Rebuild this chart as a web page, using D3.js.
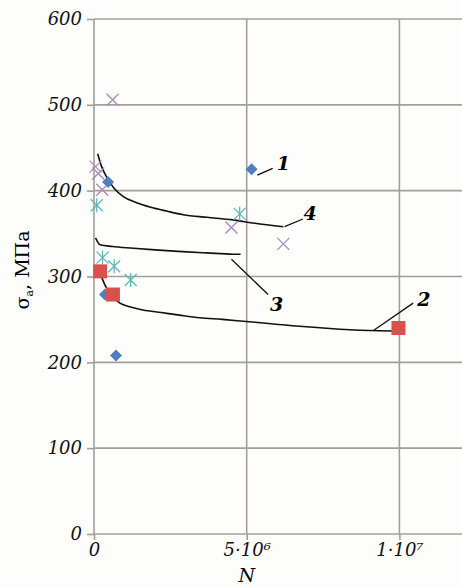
<!DOCTYPE html>
<html>
<head>
<meta charset="utf-8">
<script src="https://d3js.org/d3.v7.min.js"></script>
<style>
  body { margin: 0; background: #fdfdfb; }
  svg { display: block; }
  .tick text { font-family: "DejaVu Serif", serif; font-style: italic; font-size: 18px; fill: #111; }
</style>
</head>
<body>
<svg width="462" height="587"></svg>
<script>
// x in cycles, y in MPa
var yTicks = [0, 100, 200, 300, 400, 500, 600];
var xTicks = [0, 5e6, 1e7];
var xTickLabels = ["0", "5\u00b710\u2076", "1\u00b710\u2077"];

var diamondsN = [5.16e6, 0.46e6, 0.72e6, 0.36e6];
var diamondsS = [425, 410, 208, 279];

var squaresN = [0.2e6, 0.62e6, 9.97e6];
var squaresS = [306, 279, 240];

var crossesN = [0.61e6, 0.05e6, 0.14e6, 0.27e6, 4.5e6, 6.2e6];
var crossesS = [506, 428, 420, 401, 357, 338];

var starsN = [0.09e6, 0.28e6, 0.66e6, 1.2e6, 4.77e6];
var starsS = [383, 322, 312, 296, 373];

// curve 4 (top)
var curve4N = [0.12e6, 0.25e6, 0.41e6, 0.65e6, 0.96e6, 1.4e6, 1.83e6, 2.4e6, 2.92e6, 3.7e6, 4.55e6, 5.26e6, 6.2e6];
var curve4S = [443, 428, 416, 403, 393, 386, 381, 376, 372, 369, 366, 362, 358];
// curve 3 (middle)
var curve3N = [0.05e6, 0.2e6, 0.6e6, 1.28e6, 2.0e6, 2.9e6, 3.7e6, 4.55e6, 4.8e6];
var curve3S = [345, 337, 335, 333, 331, 329, 327.5, 326, 326];
// curve 2 (bottom)
var curve2N = [0.2e6, 0.36e6, 0.55e6, 0.85e6, 1.2e6, 1.6e6, 2.2e6, 2.8e6, 3.46e6, 4.2e6, 4.99e6, 5.8e6, 6.73e6, 7.5e6, 8.37e6, 9.0e6, 9.77e6];
var curve2S = [304, 290, 279, 269, 264.5, 261, 258, 255, 252, 250, 247.5, 245, 242, 240, 238, 237, 236.5];

var svg = d3.select("svg");
var x = d3.scaleLinear().domain([0, 12.05e6]).range([94, 462]);
var y = d3.scaleLinear().domain([0, 600]).range([534, 19]);
var grid = "#a49e9a";

// grid
svg.append("g").selectAll("line").data(yTicks).enter().append("line")
  .attr("x1", x(0)).attr("x2", 462)
  .attr("y1", function (d) { return y(d); }).attr("y2", function (d) { return y(d); })
  .attr("stroke", grid).attr("stroke-width", 1.6);
svg.append("g").selectAll("line").data(xTicks).enter().append("line")
  .attr("x1", function (d) { return x(d); }).attr("x2", function (d) { return x(d); })
  .attr("y1", y(0)).attr("y2", y(600))
  .attr("stroke", grid).attr("stroke-width", 1.6);

// axes
var yAxis = svg.append("g").attr("transform", "translate(" + x(0) + ",0)")
  .call(d3.axisLeft(y).tickValues(yTicks).tickSize(7).tickPadding(5));
var xAxis = svg.append("g").attr("transform", "translate(0," + y(0) + ")")
  .call(d3.axisBottom(x).tickValues(xTicks).tickSize(6).tickPadding(3)
    .tickFormat(function (d, i) { return xTickLabels[i]; }));
svg.selectAll(".domain").remove();
svg.selectAll(".tick line").attr("stroke", grid).attr("stroke-width", 1.6);

// curves
var line = d3.line()
  .x(function (d) { return x(d[0]); })
  .y(function (d) { return y(d[1]); })
  .curve(d3.curveMonotoneX);
[[curve4N, curve4S], [curve3N, curve3S], [curve2N, curve2S]].forEach(function (c) {
  svg.append("path")
    .datum(d3.zip(c[0], c[1]))
    .attr("d", line)
    .attr("fill", "none").attr("stroke", "#111").attr("stroke-width", 1.6);
});

// markers
svg.append("g").selectAll("path").data(d3.zip(crossesN, crossesS)).enter().append("path")
  .attr("transform", function (d) { return "translate(" + x(d[0]) + "," + y(d[1]) + ")"; })
  .attr("d", "M-6,-6L6,6M-6,6L6,-6")
  .attr("stroke", "#a88bb4").attr("stroke-width", 1.3).attr("fill", "none");

svg.append("g").selectAll("path").data(d3.zip(starsN, starsS)).enter().append("path")
  .attr("transform", function (d) { return "translate(" + x(d[0]) + "," + y(d[1]) + ")"; })
  .attr("d", "M-6,-6L6,6M-6,6L6,-6M0,-7L0,7")
  .attr("stroke", "#5fb7bd").attr("stroke-width", 1.3).attr("fill", "none");

svg.append("g").selectAll("path").data(d3.zip(diamondsN, diamondsS)).enter().append("path")
  .attr("transform", function (d) { return "translate(" + x(d[0]) + "," + y(d[1]) + ")"; })
  .attr("d", "M0,-6L6,0L0,6L-6,0Z")
  .attr("fill", "#4f7fbf");

svg.append("g").selectAll("rect").data(d3.zip(squaresN, squaresS)).enter().append("rect")
  .attr("x", function (d) { return x(d[0]) - 7; })
  .attr("y", function (d) { return y(d[1]) - 7; })
  .attr("width", 14).attr("height", 14)
  .attr("fill", "#d9504c");

// leaders and curve labels
var labels = [
  { t: "1", lx: [5.35e6, 5.85e6], ly: [418, 426], px: 6.2e6, py: 432 },
  { t: "4", lx: [6.24e6, 6.84e6], ly: [358, 367], px: 7.08e6, py: 373 },
  { t: "3", lx: [4.5e6, 5.7e6], ly: [320, 279], px: 5.98e6, py: 268 },
  { t: "2", lx: [9.15e6, 10.45e6], ly: [237, 269], px: 10.8e6, py: 273 }
];
labels.forEach(function (l) {
  svg.append("line")
    .attr("x1", x(l.lx[0])).attr("y1", y(l.ly[0]))
    .attr("x2", x(l.lx[1])).attr("y2", y(l.ly[1]))
    .attr("stroke", "#111").attr("stroke-width", 1.3);
  svg.append("text")
    .attr("x", x(l.px)).attr("y", y(l.py))
    .attr("dy", "0.35em")
    .attr("text-anchor", "middle")
    .style("font-family", "DejaVu Serif, serif").style("font-style", "italic")
    .style("font-weight", "bold").style("font-size", "19px")
    .text(l.t);
});

// axis titles
svg.append("text")
  .attr("x", x(5e6)).attr("y", 582)
  .attr("text-anchor", "middle")
  .style("font-family", "DejaVu Serif, serif").style("font-style", "italic")
  .style("font-size", "19px")
  .text("N");

var yl = svg.append("text")
  .attr("transform", "translate(29,270) rotate(-90)")
  .attr("text-anchor", "middle")
  .style("font-family", "DejaVu Serif, serif").style("font-size", "19px");
yl.append("tspan").text("\u03c3");
yl.append("tspan").attr("dy", "4").style("font-size", "11px").text("a");
yl.append("tspan").attr("dy", "-4").text(", \u041c\u041f\u0430");
</script>
</body>
</html>
